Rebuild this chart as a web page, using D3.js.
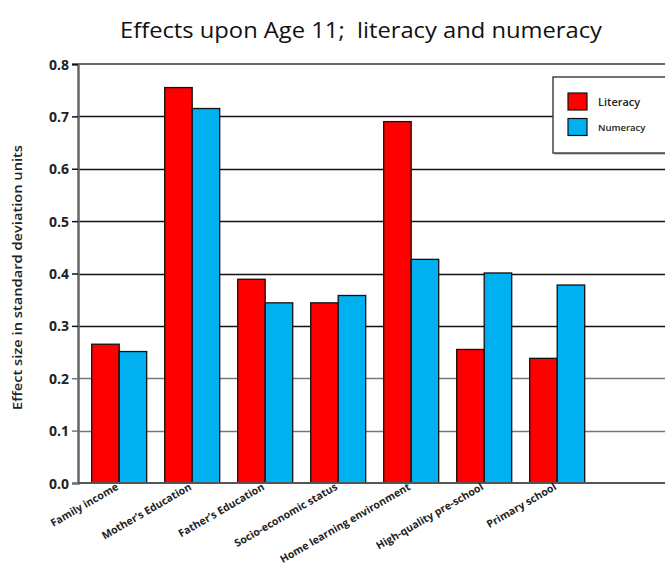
<!DOCTYPE html>
<html>
<head>
<meta charset="utf-8">
<script src="https://cdn.jsdelivr.net/npm/d3@7"></script>
<style>
  html, body { margin: 0; padding: 0; background: #fff; }
  svg { display: block; }
</style>
</head>
<body>
<svg id="chart" width="665" height="565"></svg>
<script>
// Effect sizes on age-11 attainment, by influence
const categories = [
  "Family income",
  "Mother\u2019s Education",
  "Father\u2019s Education",
  "Socio-economic status",
  "Home learning environment",
  "High-quality pre-school",
  "Primary school"
];
const literacy = [0.265, 0.755, 0.389, 0.344, 0.690, 0.255, 0.238];
const numeracy = [0.251, 0.715, 0.344, 0.358, 0.427, 0.401, 0.378];
const seriesNames = ["Literacy", "Numeracy"];
const seriesColors = ["#ff0000", "#00b0f0"];
const yTicks = [0, 0.1, 0.2, 0.3, 0.4, 0.5, 0.6, 0.7, 0.8];

const svg = d3.select("#chart");
const font = "'Open Sans', 'Noto Sans', sans-serif";

const plot = { left: 78, right: 665, top: 64, bottom: 483 };

const y = d3.scaleLinear().domain([0, 0.8]).range([plot.bottom, plot.top]);

const step = 73;
const x0 = d3.scaleBand()
  .domain(categories)
  .range([82.7, 82.7 + step * categories.length])
  .paddingInner(18 / step)
  .paddingOuter(9 / step);

const x1 = d3.scaleBand()
  .domain(seriesNames)
  .range([0, x0.bandwidth()]);

// Title
svg.append("text")
  .attr("x", 361).attr("y", 38)
  .attr("text-anchor", "middle")
  .attr("font-family", font)
  .attr("font-size", 22)
  .attr("fill", "#111")
  .style("white-space", "pre")
  .attr("textLength", 482)
  .attr("lengthAdjust", "spacingAndGlyphs")
  .text("Effects upon Age 11;  literacy and numeracy");

// Legend box position (needed to stop the 0.7 gridline at its edge)
const legend = { x: 553, y: 77, w: 130, h: 76 };

// Gridlines
const grid = svg.append("g");
yTicks.filter(t => t > 0 && t < 0.8).forEach(t => {
  const yy = Math.round(y(t)) + 0.5;
  const xEnd = (yy > legend.y && yy < legend.y + legend.h) ? legend.x : plot.right;
  grid.append("line")
    .attr("x1", plot.left).attr("x2", xEnd)
    .attr("y1", yy).attr("y2", yy)
    .attr("stroke", t <= 0.2 ? "#777" : "#111")
    .attr("stroke-width", 1.5);
});

// Top border of the plot area
svg.append("line")
  .attr("x1", plot.left).attr("x2", plot.right)
  .attr("y1", y(0.8)).attr("y2", y(0.8))
  .attr("stroke", "#666").attr("stroke-width", 2);

// Y axis
const yAxis = d3.axisLeft(y)
  .tickValues(yTicks)
  .tickFormat(d3.format(".1f"))
  .tickSize(6)
  .tickPadding(3);

const gy = svg.append("g")
  .attr("transform", `translate(${plot.left},0)`)
  .call(yAxis);
gy.select(".domain").attr("stroke", "#666").attr("stroke-width", 2.5);
gy.selectAll(".tick line").attr("stroke", (d) => d <= 0.2 ? "#777" : "#111").attr("stroke-width", 1.5);
gy.selectAll(".tick text")
  .attr("font-family", font)
  .attr("font-size", 14)
  .attr("font-weight", "bold")
  .attr("fill", "#222")
  .attr("dy", "0.36em");

// Bars
const groups = svg.append("g")
  .selectAll("g")
  .data(categories.map((c, i) => ({ c, vals: [literacy[i], numeracy[i]] })))
  .join("g")
  .attr("transform", d => `translate(${x0(d.c)},0)`);

groups.selectAll("rect")
  .data(d => d.vals.map((v, j) => ({ v, s: seriesNames[j], color: seriesColors[j] })))
  .join("rect")
  .attr("x", d => x1(d.s))
  .attr("width", x1.bandwidth())
  .attr("y", d => y(d.v))
  .attr("height", d => y(0) - y(d.v))
  .attr("fill", d => d.color)
  .attr("stroke", "#111")
  .attr("stroke-width", 1.3);

// X axis baseline
svg.append("line")
  .attr("x1", plot.left).attr("x2", plot.right)
  .attr("y1", plot.bottom).attr("y2", plot.bottom)
  .attr("stroke", "#555").attr("stroke-width", 2);

// Category labels, rotated
svg.append("g")
  .selectAll("text")
  .data(categories)
  .join("text")
  .attr("transform", d => `translate(${x0(d) + x0.bandwidth() / 2},${plot.bottom + 6}) rotate(-30)`)
  .attr("text-anchor", "end")
  .attr("font-family", font)
  .attr("font-size", 10.5)
  .attr("font-weight", "bold")
  .attr("fill", "#222")
  .text(d => d);

// Y axis title
svg.append("text")
  .attr("transform", `translate(22,${(145 + 410) / 2}) rotate(-90)`)
  .attr("text-anchor", "middle")
  .attr("font-family", font)
  .attr("font-size", 12)
  .attr("font-weight", 600)
  .attr("fill", "#222")
  .attr("textLength", 265)
  .attr("lengthAdjust", "spacingAndGlyphs")
  .text("Effect size in standard deviation units");

// Legend
const lg = svg.append("g");
lg.append("rect")
  .attr("x", legend.x + 1.5).attr("y", legend.y + 1.5)
  .attr("width", legend.w).attr("height", legend.h)
  .attr("fill", "#999");
lg.append("rect")
  .attr("x", legend.x).attr("y", legend.y)
  .attr("width", legend.w).attr("height", legend.h)
  .attr("fill", "#fff").attr("stroke", "#444").attr("stroke-width", 1.5);

const items = lg.selectAll("g.item")
  .data(seriesNames)
  .join("g")
  .attr("class", "item")
  .attr("transform", (d, i) => `translate(568,${93 + i * 25.5})`);
items.append("rect")
  .attr("width", 19).attr("height", 17)
  .attr("fill", (d, i) => seriesColors[i])
  .attr("stroke", "#111").attr("stroke-width", 1.2);
items.append("text")
  .attr("x", 30).attr("y", 9)
  .attr("dy", "0.35em")
  .attr("font-family", font)
  .attr("font-size", (d, i) => i === 0 ? 11 : 9.5)
  .attr("font-weight", 600)
  .attr("fill", "#222")
  .text(d => d);
</script>
</body>
</html>
